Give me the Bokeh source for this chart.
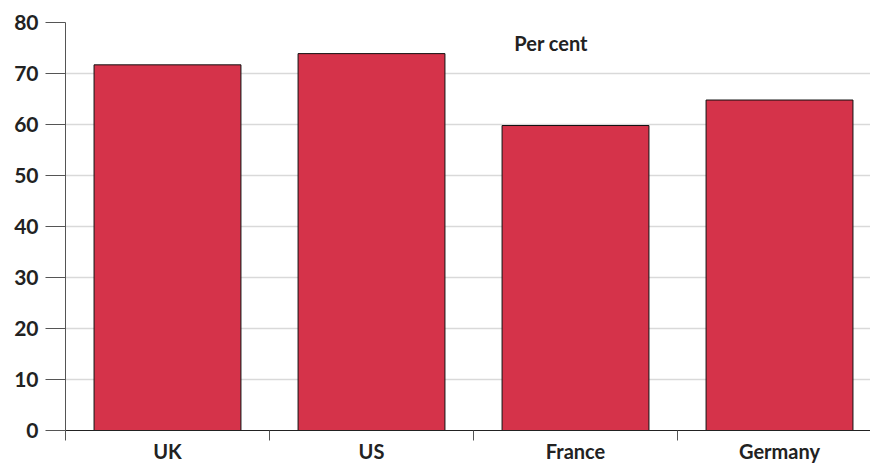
from bokeh.plotting import figure
from bokeh.models import ColumnDataSource, Range1d, FixedTicker, Label
from bokeh.embed import file_html
from bokeh.resources import INLINE

categories = ["UK", "US", "France", "Germany"]
values = [71.7, 73.9, 59.8, 64.8]
y_ticks = [0, 10, 20, 30, 40, 50, 60, 70, 80]
unit_label = "Per cent"

xpos = [i + 0.5 for i in range(len(categories))]
src = ColumnDataSource(dict(x=xpos, top=values, cat=categories))

FONT = "Lato"

p = figure(width=870, height=465, output_backend="svg", toolbar_location=None,
           x_range=Range1d(0, 3.946), y_range=Range1d(0, 80),
           min_border_left=65, min_border_right=0, min_border_top=22, min_border_bottom=35)
p.outline_line_color = None
p.background_fill_color = "white"

p.vbar(x="x", top="top", width=0.72, bottom=0, source=src,
       fill_color="#D5334A", line_color="#111111", line_width=1)

# y axis
p.yaxis.ticker = FixedTicker(ticks=y_ticks)
p.yaxis.major_tick_out = 20
p.yaxis.major_tick_in = 0
p.yaxis.minor_tick_line_color = None
p.yaxis.axis_line_color = "#555555"
p.yaxis.major_tick_line_color = "#555555"
p.yaxis.major_label_standoff = 7
p.yaxis.major_label_text_font = FONT
p.yaxis.major_label_text_font_style = "bold"
p.yaxis.major_label_text_font_size = "21px"
p.yaxis.major_label_text_color = "#222222"

# x axis
p.xaxis.ticker = FixedTicker(ticks=xpos, minor_ticks=list(range(len(categories) + 1)))
p.xaxis.major_label_overrides = {x: c for x, c in zip(xpos, categories)}
p.xaxis.major_tick_line_color = None
p.xaxis.major_tick_out = 0
p.xaxis.major_tick_in = 0
p.xaxis.minor_tick_out = 10
p.xaxis.minor_tick_in = 0
p.xaxis.minor_tick_line_color = "#555555"
p.xaxis.axis_line_color = "#222222"
p.xaxis.major_label_standoff = -2
p.xaxis.major_label_text_font = FONT
p.xaxis.major_label_text_font_style = "bold"
p.xaxis.major_label_text_font_size = "20px"
p.xaxis.major_label_text_color = "#222222"

p.xgrid.grid_line_color = None
p.ygrid.ticker = FixedTicker(ticks=y_ticks)
p.ygrid.grid_line_color = "#d9d9d9"
p.ygrid.grid_line_width = 1.5

p.add_layout(Label(x=2.2, y=75.9, text=unit_label, text_font=FONT,
                   text_font_style="bold", text_font_size="20px",
                   text_color="#222222", text_baseline="middle"))

open("out.html", "w").write(file_html(p, INLINE))
